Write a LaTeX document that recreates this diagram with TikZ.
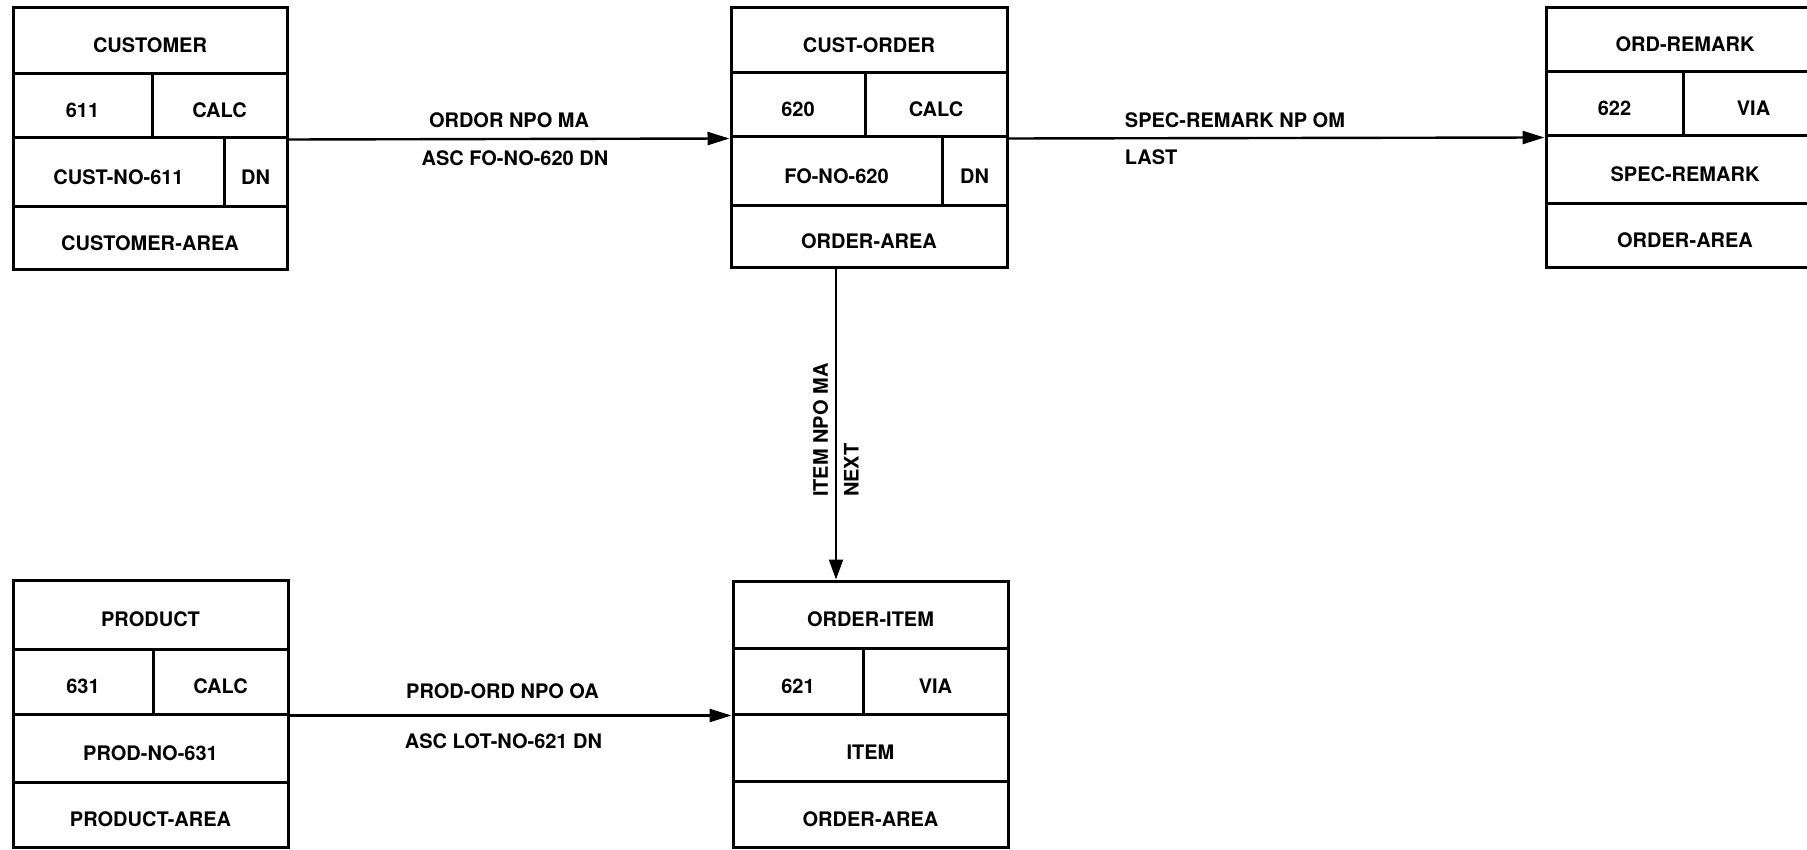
\documentclass[tikz,border=0pt]{standalone}
\usepackage{fontspec}
\setmainfont{TeX Gyre Heros}
\usetikzlibrary{fit,arrows.meta}
\newcommand{\rcell}[4]{%
  \node[cell, fit={#2 #3}] (#1) {};
  \node[txt, anchor=base] (#1t) at ([yshift=-12pt]#1.center) {#4};}
\begin{document}
\begin{tikzpicture}[x=1pt,y=-1pt,
  cell/.style={draw, line width=3pt, inner sep=0pt},
  txt/.style={inner sep=0pt, font=\fontsize{20}{24}\selectfont\bfseries},
  conn/.style={line width=2.4pt, -{Triangle[length=22pt,width=13pt]}},
  clab/.style={inner sep=0pt, font=\fontsize{20}{24}\selectfont\bfseries, text height=14.3pt, text depth=0pt}]
\useasboundingbox (0,0) rectangle (1807,850);
\clip (0,0) rectangle (1807,850);
% CUSTOMER
\rcell{c0}{(13,8)}{(287,74)}{CUSTOMER}
\rcell{c1a}{(13,74)}{(152,138)}{611}
\rcell{c1b}{(152,74)}{(287,138)}{CALC}
\rcell{c2a}{(13,138)}{(224,207)}{CUST-NO-611}
\rcell{c2b}{(224,138)}{(287,207)}{DN}
\rcell{c3}{(13,207)}{(287,270)}{CUSTOMER-AREA}
% CUST-ORDER
\rcell{o0}{(731,8)}{(1007,73)}{CUST-ORDER}
\rcell{o1a}{(731,73)}{(865,137)}{620}
\rcell{o1b}{(865,73)}{(1007,137)}{CALC}
\rcell{o2a}{(731,137)}{(942,206)}{FO-NO-620}
\rcell{o2b}{(942,137)}{(1007,206)}{DN}
\rcell{o3}{(731,206)}{(1007,268)}{ORDER-AREA}
% ORD-REMARK
\rcell{r0}{(1546,8)}{(1824,72)}{ORD-REMARK}
\rcell{r1a}{(1546,72)}{(1683,136)}{622}
\rcell{r1b}{(1683,72)}{(1824,136)}{VIA}
\rcell{r2}{(1546,136)}{(1824,204)}{SPEC-REMARK}
\rcell{r3}{(1546,204)}{(1824,268)}{ORDER-AREA}
% PRODUCT
\rcell{p0}{(13,580)}{(288,649)}{PRODUCT}
\rcell{p1a}{(13,649)}{(153,714)}{631}
\rcell{p1b}{(153,649)}{(288,714)}{CALC}
\rcell{p2}{(13,714)}{(288,782)}{PROD-NO-631}
\rcell{p3}{(13,782)}{(288,847)}{PRODUCT-AREA}
% ORDER-ITEM
\rcell{i0}{(733,581)}{(1008,648)}{ORDER-ITEM}
\rcell{i1a}{(733,648)}{(863,714)}{621}
\rcell{i1b}{(863,648)}{(1008,714)}{VIA}
\rcell{i2}{(733,714)}{(1008,781)}{ITEM}
\rcell{i3}{(733,781)}{(1008,847)}{ORDER-AREA}
% connectors
\draw[conn] (c1b.south east) -- (o1a.south west)
  node[clab, midway, above=10pt] (l1a) {ORDOR NPO MA}
  node[clab, midway, below=11pt, xshift=6pt] (l1b) {ASC FO-NO-620 DN};
\draw[conn] (o1b.south east) -- (r1a.south west)
  node[clab, pos=0.215, anchor=south west, yshift=10pt] (l2a) {SPEC-REMARK NP OM}
  node[clab, pos=0.215, anchor=north west, yshift=-11pt] (l2b) {LAST};
\coordinate (vx) at (836,0);
\draw[line width=2.4pt, -{Triangle[length=20pt,width=14pt]}] (o3.south -| vx) -- (i0.north -| vx);
\node[clab, rotate=90, anchor=south west] (l3a) at (828,497) {ITEM NPO MA};
\node[clab, rotate=90, anchor=north west] (l3b) at (844,497) {NEXT};
\draw[conn] (p1b.south east) -- (i1a.south west)
  node[clab, midway, above=16pt, xshift=-8pt] (l4a) {PROD-ORD NPO OA}
  node[clab, midway, below=17pt, xshift=-7pt] (l4b) {ASC LOT-NO-621 DN};
\end{tikzpicture}
\end{document}
